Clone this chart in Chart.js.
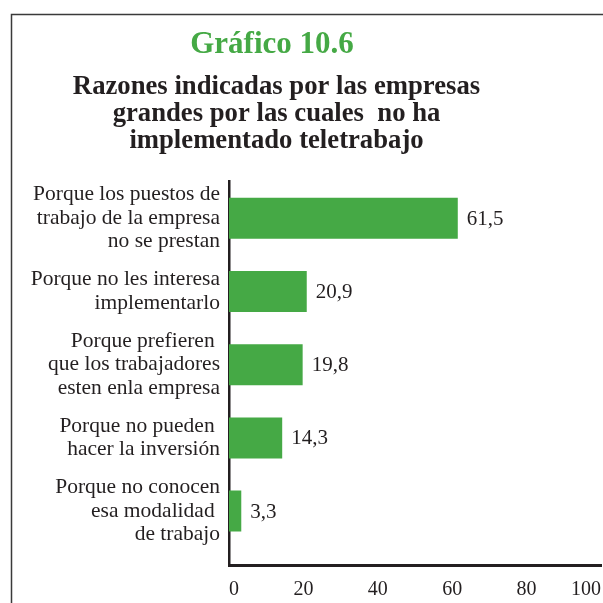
<!DOCTYPE html>
<html>
<head>
<meta charset="utf-8">
<script src="https://cdn.jsdelivr.net/npm/chart.js@4/dist/chart.umd.min.js"></script>
<style>
  html, body { margin: 0; padding: 0; background: #ffffff; }
  canvas { display: block; }
</style>
</head>
<body>
<canvas id="c" width="603" height="603"></canvas>
<script>
const chartTitle = "Gráfico 10.6";
const chartSubtitle = [
  "Razones indicadas por las empresas",
  "grandes por las cuales  no ha",
  "implementado teletrabajo"
];
const categories = [
  ["Porque los puestos de", "trabajo de la empresa", "no se prestan"],
  ["Porque no les interesa", "implementarlo"],
  ["Porque prefieren ", "que los trabajadores", "esten enla empresa"],
  ["Porque no pueden ", "hacer la inversión"],
  ["Porque no conocen", "esa modalidad ", "de trabajo"]
];
const values = [61.5, 20.9, 19.8, 14.3, 3.3];
const xTicks = [0, 20, 40, 60, 80, 100];

const GREEN = "#45a945";
const INK = "#231f20";
const SERIF = "'Liberation Serif', 'DejaVu Serif', serif";

const points = values.map((v, i) => ({ x: v, y: i }));

const framePlugin = {
  id: "frame",
  afterLayout(chart) {
    // the printed title block is centred a little left of the page centre
    const tb = chart.titleBlock;
    if (!tb) return;
    tb.right = tb.left + 544;
    chart.boxes.forEach(b => {
      if (b !== tb && b.constructor === tb.constructor) {
        b.right = b.left + 553;
      }
    });
  },
  beforeDraw(chart) {
    const ctx = chart.ctx;
    ctx.save();
    ctx.strokeStyle = "#3a3a3a";
    ctx.lineWidth = 1.5;
    ctx.beginPath();
    ctx.moveTo(11.5, 603);
    ctx.lineTo(11.5, 14.5);
    ctx.lineTo(603, 14.5);
    ctx.stroke();
    ctx.restore();
  }
};

const valueLabels = {
  id: "valueLabels",
  afterDatasetsDraw(chart) {
    const ctx = chart.ctx;
    const meta = chart.getDatasetMeta(0);
    ctx.save();
    ctx.font = "21px " + SERIF;
    ctx.fillStyle = INK;
    ctx.textAlign = "left";
    ctx.textBaseline = "middle";
    meta.data.forEach((bar, i) => {
      const txt = values[i].toFixed(1).replace(".", ",");
      ctx.fillText(txt, bar.x + 9, bar.y + 1);
    });
    ctx.restore();
  }
};

new Chart(document.getElementById("c"), {
  type: "bar",
  data: {
    datasets: [{
      data: points,
      backgroundColor: GREEN,
      borderWidth: 0,
      barPercentage: 0.56,
      categoryPercentage: 1
    }]
  },
  options: {
    responsive: false,
    animation: false,
    indexAxis: "y",
    layout: { padding: { left: 0, right: 2, top: 0, bottom: 1 } },
    plugins: {
      legend: { display: false },
      tooltip: { enabled: false },
      title: {
        display: true,
        text: chartTitle,
        color: GREEN,
        font: { family: SERIF, size: 31, weight: "bold", lineHeight: 1.2 },
        padding: { top: 26, bottom: 10 }
      },
      subtitle: {
        display: true,
        text: chartSubtitle,
        color: INK,
        font: { family: SERIF, size: 26.7, weight: "bold", lineHeight: 1.0225 },
        padding: { top: 0, bottom: 26.6 }
      }
    },
    scales: {
      x: {
        type: "linear",
        min: 0,
        max: 100,
        offset: false,
        afterBuildTicks(scale) { scale.ticks = xTicks.map(v => ({ value: v })); },
        afterFit(scale) { scale.paddingLeft = 0; scale.paddingRight = 0; scale.height = 37; },
        grid: { display: false, drawTicks: false, offset: false },
        border: { display: true, color: INK, width: 3 },
        ticks: {
          align: "inner",
          padding: 13,
          maxRotation: 0,
          color: INK,
          font: { family: SERIF, size: 20, lineHeight: 1.2 }
        }
      },
      y: {
        type: "linear",
        reverse: true,
        offset: false,
        min: -0.5,
        max: 4.736,
        afterBuildTicks(scale) { scale.ticks = categories.map((c, i) => ({ value: i })); },
        afterFit(scale) { scale.width = 229; scale.paddingTop = 0; scale.paddingBottom = 0; },
        grid: { display: false, drawTicks: false, offset: false },
        border: { display: true, color: INK, width: 2.5 },
        ticks: {
          padding: 9,
          color: INK,
          autoSkip: false,
          font: { family: SERIF, size: 21.5, lineHeight: 1.093 },
          callback: (v) => categories[v]
        }
      }
    }
  },
  plugins: [framePlugin, valueLabels]
});
</script>
</body>
</html>
